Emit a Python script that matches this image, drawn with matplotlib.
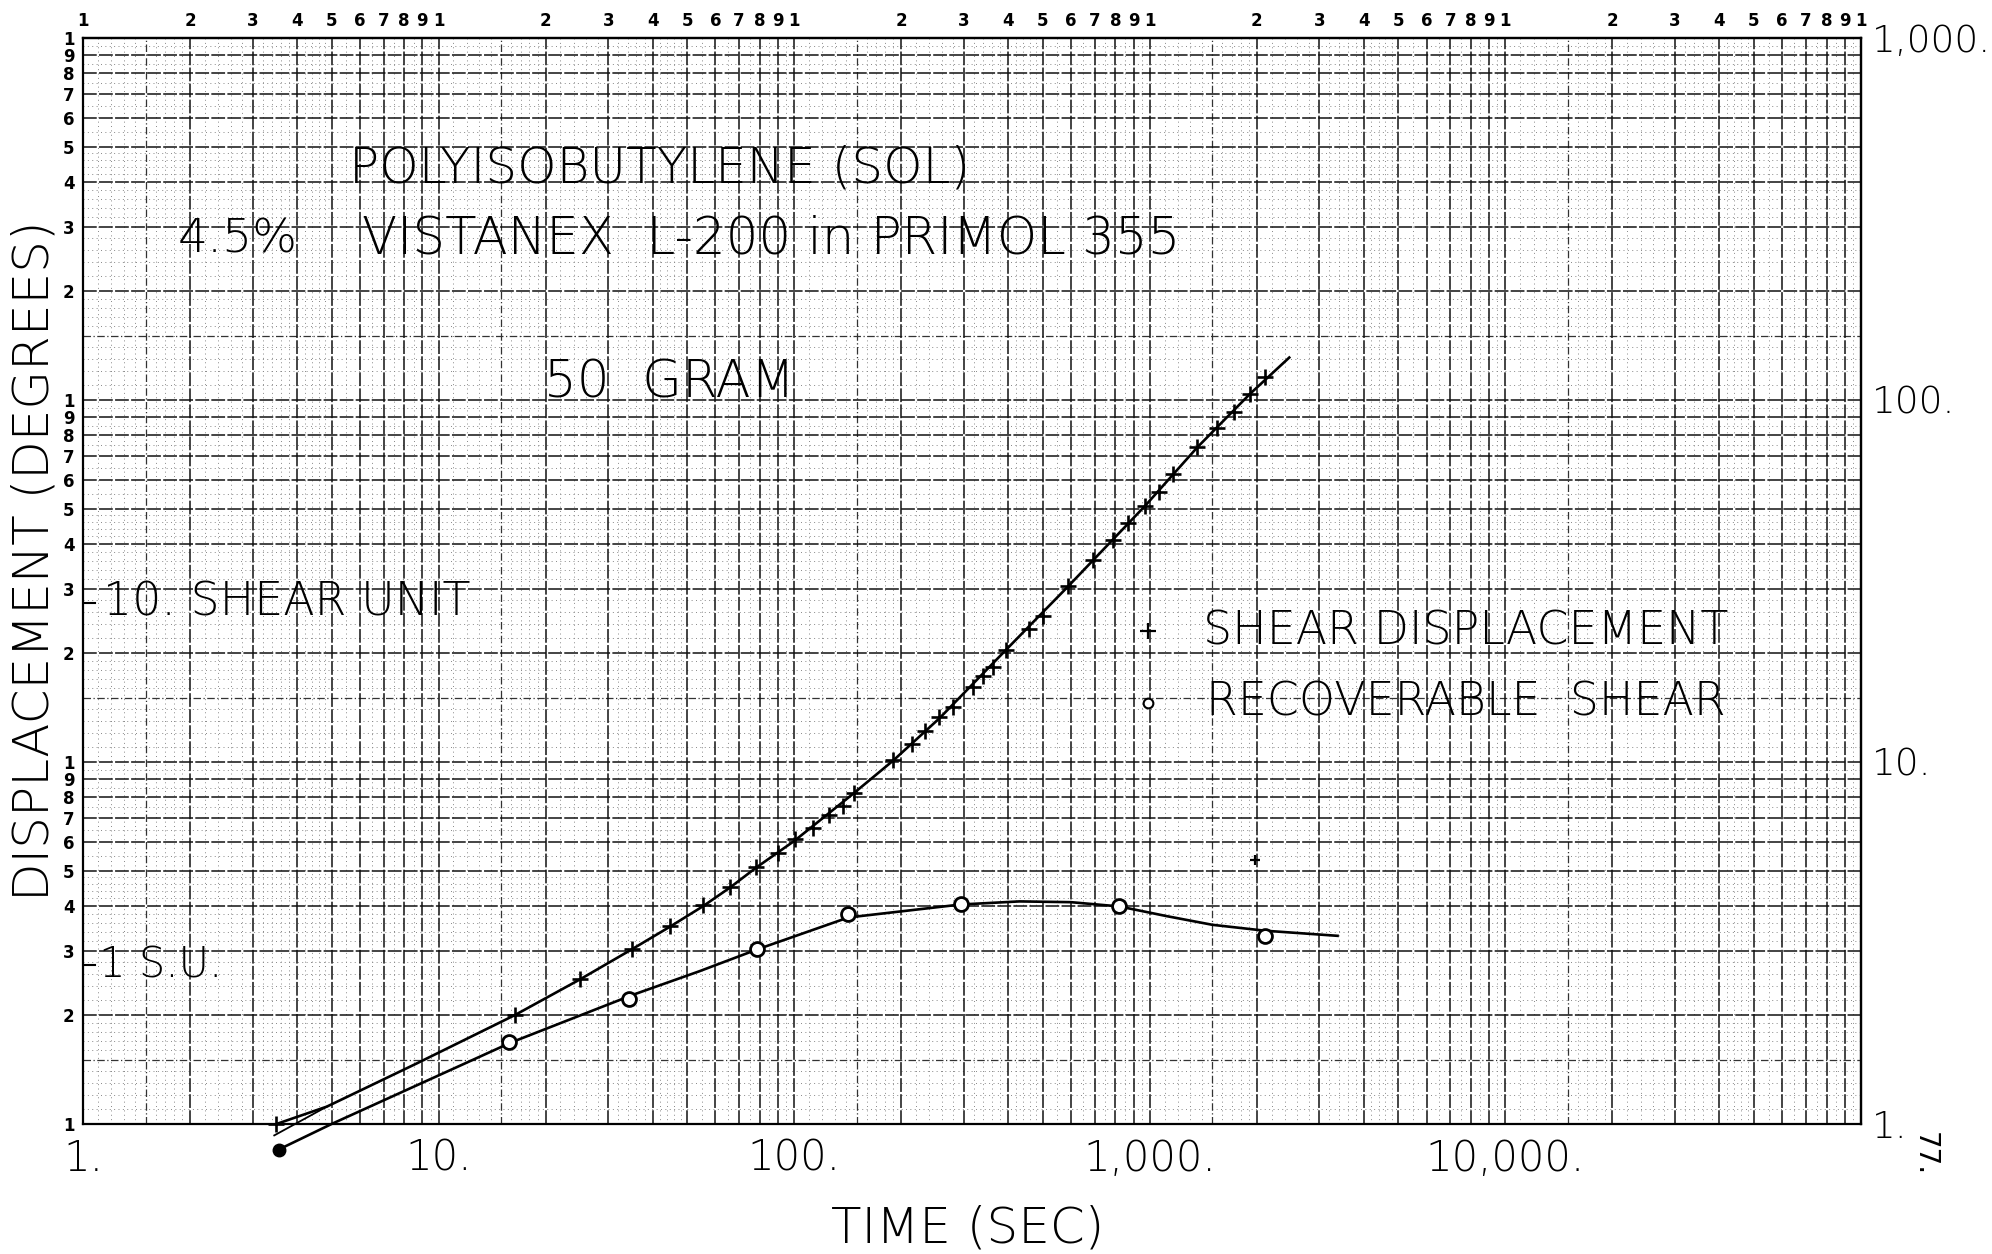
#! /usr/bin/python3

# displacement vs time on log-log paper, polyisobutylene sol
import matplotlib
matplotlib.use('Agg')
import matplotlib.pyplot as plt
from matplotlib.ticker import NullLocator, FixedLocator

# measured points (time in sec, displacement in degrees)
shear_t = [3.5, 16.4, 25, 35, 44.7, 55.5, 66, 78, 90, 100.5, 113, 125, 137, 147,
           190, 214, 233, 256, 280, 318, 340, 362, 394, 458, 500, 590, 691, 787,
           871, 970, 1064, 1159, 1360, 1543, 1725, 1914, 2109]
shear_y = [1.0, 2.0, 2.51, 3.04, 3.52, 4.03, 4.52, 5.14, 5.59, 6.11, 6.56, 7.14, 7.56, 8.19,
           10.1, 11.2, 12.2, 13.3, 14.2, 16.1, 17.3, 18.3, 20.4, 23.3, 25.3, 30.6, 36.1, 41.0,
           45.8, 51.0, 55.8, 62.3, 74.0, 83.9, 92.9, 103.9, 116]
stray_t = [1977]
stray_y = [5.36]

rec_t = [15.8, 34.4, 78.6, 142, 294, 821, 2104]
rec_y = [1.68, 2.21, 3.05, 3.8, 4.04, 3.99, 3.31]
rec_first_t = [3.55]
rec_first_y = [0.85]

# hand drawn curves through the points
shear_curve_t = [3.5, 4.85, 8.68, 16.4, 25, 35, 45, 55.5, 66, 78, 100, 146, 190,
                 256, 394, 590, 970, 1360, 1914, 2467]
shear_curve_y = [1.0, 1.117, 1.47, 2.0, 2.51, 3.04, 3.52, 4.0, 4.5, 5.1, 6.05, 8.15, 10.1,
                 13.2, 20.4, 30.6, 51, 74, 104, 131]
shear_lead_t = [3.45, 4.85]
shear_lead_y = [0.93, 1.117]
rec_curve_t = [3.55, 5.0, 16, 35, 54, 79, 142, 294, 430, 600, 821, 1118, 1500, 2104, 3373]
rec_curve_y = [0.85, 1.0, 1.68, 2.27, 2.64, 3.04, 3.72, 4.04, 4.12, 4.1, 3.99, 3.75, 3.55, 3.42, 3.31]

x_decades = [1, 10, 100, 1000, 10000]
x_labels = ['1.', '10.', '100.', '1,000.', '10,000.']
y_decades = [1, 10, 100, 1000]
y_labels = ['1.', '10.', '100.', '1,000.']

fig = plt.figure(figsize=(19.92, 12.54), dpi=100)
ax = fig.add_axes([0.04167, 0.10367, 0.89257, 0.86603])
ax.set_xscale('log')
ax.set_yscale('log')
ax.set_xlim(1, 1e5)
ax.set_ylim(1, 1000)

# graph paper rulings
def rulings(decs):
    ints, halves, fine = [], [], []
    for d in decs:
        ints += [d * k for k in range(1, 10)]
        halves += [d * 1.5]
        fine += [d * (1 + i / 10) for i in range(1, 10) if i != 5]
        fine += [d * (2 + i / 5) for i in range(1, 15) if i % 5 != 0]
        fine += [d * (5.5 + i) for i in range(5)]
    return ints, halves, fine

xi, xh, xf = rulings(x_decades)
yi, yh, yf = rulings(y_decades[:-1])
xt = ax.get_xaxis_transform()
yt = ax.get_yaxis_transform()
ax.vlines(xf, 0, 1, transform=xt, colors='#888888', lw=0.7, linestyles=(0, (1, 3.5)), zorder=1)
ax.hlines(yf, 0, 1, transform=yt, colors='#888888', lw=0.7, linestyles=(0, (1, 3.5)), zorder=1)
ax.vlines(xh, 0, 1, transform=xt, colors='#333333', lw=0.9, linestyles=(0, (6, 2, 1, 2)), zorder=1)
ax.hlines(yh, 0, 1, transform=yt, colors='#333333', lw=0.9, linestyles=(0, (6, 2, 1, 2)), zorder=1)
ax.vlines(xi, 0, 1, transform=xt, colors='#111111', lw=1.1, linestyles=(0, (9, 1.5)), zorder=1)
ax.hlines(yi, 0, 1, transform=yt, colors='#111111', lw=1.1, linestyles=(0, (9, 1.5)), zorder=1)

for s in ax.spines.values():
    s.set_linewidth(1.6)

# curves and points
ax.plot(shear_curve_t, shear_curve_y, color='black', lw=1.9, zorder=3, clip_on=False)
ax.plot(shear_lead_t, shear_lead_y, color='black', lw=1.3, zorder=3, clip_on=False)
ax.plot(rec_curve_t, rec_curve_y, color='black', lw=1.9, zorder=3, clip_on=False)
ax.plot(shear_t, shear_y, '+', color='black', ms=11, mew=1.9, zorder=4, clip_on=False)
ax.plot(stray_t, stray_y, '+', color='black', ms=7, mew=1.6, zorder=4)
ax.plot(rec_t, rec_y, 'o', mfc='white', mec='black', ms=10, mew=2, zorder=4)
ax.plot(rec_first_t, rec_first_y, 'o', color='black', ms=9, zorder=4, clip_on=False)

# ticks: bottom and right big labels, top and left small digits
ax.xaxis.set_major_locator(FixedLocator(x_decades))
ax.xaxis.set_minor_locator(NullLocator())
ax.set_xticklabels(x_labels, fontweight='light')
ax.tick_params(axis='x', length=0, pad=10, labelsize=30)

y_small = [d * k for d in y_decades[:-1] for k in range(1, 10)] + [1000]
ax.yaxis.set_major_locator(FixedLocator(y_small))
ax.yaxis.set_minor_locator(NullLocator())
ax.set_yticklabels([str(int(round(v / 10 ** len(str(int(v)))*10))) for v in y_small])
ax.tick_params(axis='y', length=0, pad=6, labelsize=12)
for lab in ax.get_yticklabels():
    lab.set_fontweight('bold')

x_small = [d * k for d in x_decades for k in range(1, 10)] + [100000]
top = ax.secondary_xaxis('top')
top.xaxis.set_major_locator(FixedLocator(x_small))
top.xaxis.set_minor_locator(NullLocator())
top.set_xticklabels([str(int(round(v / 10 ** len(str(int(v)))*10))) for v in x_small])
top.tick_params(length=0, pad=6, labelsize=12)
for lab in top.get_xticklabels():
    lab.set_fontweight('bold')
top.spines['top'].set_linewidth(1.6)

right = ax.secondary_yaxis('right')
right.yaxis.set_major_locator(FixedLocator(y_decades))
right.yaxis.set_minor_locator(NullLocator())
right.set_yticklabels(y_labels, fontweight='light')
right.tick_params(length=0, pad=8, labelsize=27)
right.spines['right'].set_linewidth(1.6)

# lettering
lt = dict(color='black', fontweight='light', va='center', zorder=5)
ax.text(5.6, 435, 'POLYISOBUTYLENE (SOL)', fontsize=36, **lt)
ax.text(1.85, 278, '4.5%', fontsize=34, **lt)
ax.text(6.09, 278, 'VISTANEX  L-200 in PRIMOL 355', fontsize=37, **lt)
ax.text(19.8, 111, '50  GRAM', fontsize=37, **lt)
ax.text(1.14, 27.5, '10. SHEAR UNIT', fontsize=33, **lt)
ax.text(1.11, 2.75, '1 S.U.', fontsize=30, **lt)
ax.plot([1, 1.08], [27.5, 27.5], color='black', lw=1.5, zorder=5)
ax.plot([1, 1.08], [2.75, 2.75], color='black', lw=1.5, zorder=5)

ax.plot([988], [23.0], '+', color='black', ms=11, mew=1.6, zorder=5)
ax.plot([988], [14.6], 'o', mfc='white', mec='black', ms=7, mew=1.5, zorder=5)
ax.text(1413, 23.0, 'SHEAR DISPLACEMENT', fontsize=33, **lt)
ax.text(1440, 14.6, 'RECOVERABLE  SHEAR', fontsize=33, **lt)

fig.text(0.0175, 0.553, 'DISPLACEMENT (DEGREES)', rotation=90, fontsize=36,
         fontweight='light', ha='center', va='center')
fig.text(0.486, 0.020, 'TIME (SEC)', fontsize=36, fontweight='light',
         ha='center', va='center')
fig.text(0.966, 0.080, '77.', rotation=-90, fontsize=20, ha='center', va='center')

fig.savefig('out.png', dpi=100, facecolor='white')
